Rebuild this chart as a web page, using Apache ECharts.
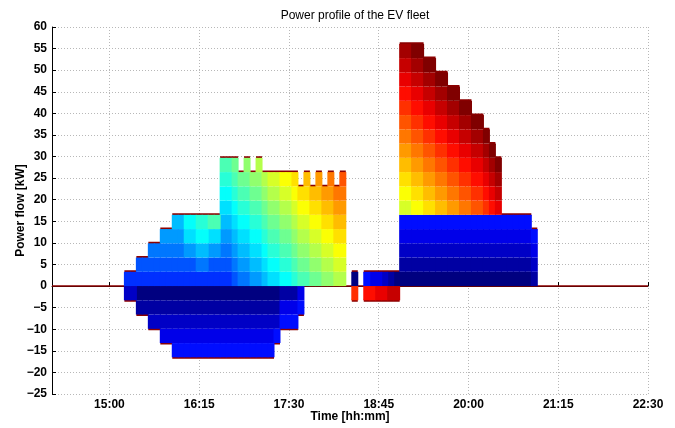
<!DOCTYPE html>
<html>
<head>
<meta charset="UTF-8">
<title>Power profile of the EV fleet</title>
<script src="https://cdn.jsdelivr.net/npm/echarts@6.0.0/dist/echarts.min.js"></script>
<style>
  body { margin: 0; background: #fff; }
  #chart { width: 675px; height: 428px; }
</style>
</head>
<body>
<div id="chart"></div>
<script>
// 5-minute time slots, slot 0 is centred on 15:15 (minutes after midnight)
const slotStart = 915;
const slotLen = 5;
const nSlots = 69;
const nVehicles = 30;
const evPower = 3.3;   // kW per vehicle

const xMin = 852, xMax = 1350;   // 14:12 .. 22:30
const xTicks = [900, 975, 1050, 1125, 1200, 1275, 1350];

// [first slot, last slot, vehicles charging]
const chargeRuns = [
  [0, 1, [5]],
  [2, 3, [5, 6]],
  [4, 5, [5, 6, 7]],
  [6, 7, [5, 6, 7, 8]],
  [8, 9, [5, 6, 7, 8, 9]],
  [10, 11, [5, 6, 8, 10, 11]],
  [12, 13, [5, 7, 9, 11, 12]],
  [14, 15, [5, 6, 8, 10, 13]],
  [16, 17, [5, 6, 7, 8, 9, 10, 11, 12, 13]],
  [18, 18, [6, 7, 8, 9, 10, 11, 12, 13, 14]],
  [19, 19, [7, 8, 9, 10, 11, 12, 13, 14]],
  [20, 20, [7, 8, 9, 10, 11, 12, 13, 14, 15]],
  [21, 21, [8, 9, 10, 11, 12, 13, 14, 15]],
  [22, 22, [8, 9, 10, 11, 12, 13, 14, 15, 16]],
  [23, 23, [9, 10, 11, 12, 13, 14, 15, 16]],
  [24, 25, [10, 11, 12, 13, 14, 15, 16, 17]],
  [26, 27, [11, 12, 13, 14, 15, 16, 17, 18]],
  [28, 28, [12, 13, 14, 15, 16, 17, 18, 19]],
  [29, 29, [13, 14, 15, 16, 17, 18, 19]],
  [30, 30, [13, 14, 15, 16, 17, 18, 19, 20]],
  [31, 31, [14, 15, 16, 17, 18, 19, 20]],
  [32, 32, [14, 15, 16, 17, 18, 19, 20, 21]],
  [33, 33, [15, 16, 17, 18, 19, 20, 21]],
  [34, 34, [15, 16, 17, 18, 19, 20, 21, 22]],
  [35, 35, [16, 17, 18, 19, 20, 21, 22]],
  [36, 36, [16, 17, 18, 19, 20, 21, 22, 23]],
  [38, 38, [0]],
  [40, 40, [4]],
  [41, 42, [3]],
  [43, 43, [2]],
  [44, 44, [1]],
  [45, 45, [0]],
  [46, 47, [0, 1, 2, 3, 4, 17, 18, 19, 20, 21, 22, 23, 24, 25, 26, 27, 28]],
  [48, 49, [0, 1, 2, 3, 4, 18, 19, 20, 21, 22, 23, 24, 25, 26, 27, 28, 29]],
  [50, 51, [0, 1, 2, 3, 4, 19, 20, 21, 22, 23, 24, 25, 26, 27, 28, 29]],
  [52, 53, [0, 1, 2, 3, 4, 20, 21, 22, 23, 24, 25, 26, 27, 28, 29]],
  [54, 55, [0, 1, 2, 3, 4, 21, 22, 23, 24, 25, 26, 27, 28, 29]],
  [56, 57, [0, 1, 2, 3, 4, 22, 23, 24, 25, 26, 27, 28, 29]],
  [58, 59, [0, 1, 2, 3, 4, 23, 24, 25, 26, 27, 28, 29]],
  [60, 60, [0, 1, 2, 3, 4, 24, 25, 26, 27, 28, 29]],
  [61, 61, [0, 1, 2, 3, 4, 25, 26, 27, 28, 29]],
  [62, 62, [0, 1, 2, 3, 4, 26, 27, 28, 29]],
  [63, 67, [0, 1, 2, 3, 4]],
  [68, 68, [1, 2, 3, 4]]
];

// [first slot, last slot, vehicles feeding back]
const dischargeRuns = [
  [0, 1, [2]],
  [2, 3, [0, 1]],
  [4, 5, [0, 1, 2]],
  [6, 7, [0, 1, 2, 3]],
  [8, 24, [0, 1, 2, 3, 4]],
  [25, 25, [0, 1, 2, 4]],
  [26, 28, [1, 3, 4]],
  [29, 29, [3, 4]],
  [38, 38, [24]],
  [40, 41, [25]],
  [42, 43, [26]],
  [44, 45, [27]]
];

function jet(t) {
  const c = v => Math.max(0, Math.min(1, 1.5 - Math.abs(v)));
  const r = Math.round(255 * c(4 * t - 3));
  const g = Math.round(255 * c(4 * t - 2));
  const b = Math.round(255 * c(4 * t - 1));
  return 'rgb(' + r + ',' + g + ',' + b + ')';
}

function hhmm(v) {
  const h = Math.floor(v / 60), m = v % 60;
  return h + ':' + (m < 10 ? '0' : '') + m;
}

// per vehicle, per slot power
const power = [];
for (let i = 0; i < nVehicles; i++) power.push(new Array(nSlots).fill('-'));
chargeRuns.forEach(([a, b, list]) => {
  for (let s = a; s <= b; s++) list.forEach(i => { power[i][s] = evPower; });
});
dischargeRuns.forEach(([a, b, list]) => {
  for (let s = a; s <= b; s++) list.forEach(i => { power[i][s] = -evPower; });
});

const slotTime = s => slotStart + s * slotLen;

// power goes in the first dimension so the stack is done on y, not on x
const series = [];
for (let i = 0; i < nVehicles; i++) {
  series.push({
    type: 'bar',
    stack: 'fleet',
    barWidth: 7,
    itemStyle: { color: jet(i / (nVehicles - 1)), borderRadius: 0, borderWidth: 0 },
    silent: true,
    z: 3,
    dimensions: ['kw', 'time'],
    encode: { x: 'time', y: 'kw' },
    data: power[i].map((v, s) => [v, slotTime(s)])
  });
}

// totals as short horizontal strokes on top/bottom of each column
const upper = [], lower = [];
for (let s = 0; s < nSlots; s++) {
  let pos = 0, neg = 0;
  for (let i = 0; i < nVehicles; i++) {
    const v = power[i][s];
    if (v === '-') continue;
    if (v > 0) pos += v; else neg += v;
  }
  const l = slotTime(s) - slotLen / 2, r = slotTime(s) + slotLen / 2;
  if (pos > 0) upper.push([l, pos], [r, pos], [r, '-']);
  if (neg < 0) lower.push([l, neg], [r, neg], [r, '-']);
}
const edge = { color: '#8b0000', width: 3 };
series.push(
  { type: 'line', data: upper, symbol: 'none', lineStyle: edge, z: 1, silent: true },
  { type: 'line', data: lower, symbol: 'none', lineStyle: edge, z: 1, silent: true },
  { type: 'line', data: [[xMin, 0], [xMax, 0]], symbol: 'none',
    lineStyle: { color: '#8b0000', width: 1.5 }, z: 1, silent: true }
);

const font = "'Liberation Sans', Arial, sans-serif";
const chart = echarts.init(document.getElementById('chart'));
chart.setOption({
  animation: false,
  backgroundColor: '#fff',
  title: {
    text: 'Power profile of the EV fleet',
    left: 350, top: 5, textAlign: 'center',
    textStyle: { fontFamily: font, fontSize: 12, fontWeight: 'normal', color: '#000' }
  },
  grid: { left: 52, right: 27, top: 27, bottom: 34, containLabel: false, outerBoundsMode: 'none' },
  xAxis: {
    type: 'value', min: xMin, max: xMax,
    name: 'Time [hh:mm]', nameLocation: 'middle', nameGap: 17, nameMoveOverlap: false,
    nameTextStyle: { fontFamily: font, fontSize: 12, fontWeight: 'bold', color: '#000' },
    axisLine: { lineStyle: { color: '#000', width: 1 } },
    axisTick: { inside: true, length: 4, customValues: xTicks, lineStyle: { color: '#000' } },
    axisLabel: { customValues: xTicks, formatter: hhmm, margin: 5,
      fontFamily: font, fontSize: 12, fontWeight: 'bold', color: '#000' },
    splitLine: { show: true, lineStyle: { color: '#b8b8b8', type: [1, 2] } }
  },
  yAxis: {
    type: 'value', min: -25, max: 60, interval: 5,
    name: 'Power flow [kW]', nameLocation: 'middle', nameGap: 25, nameMoveOverlap: false,
    nameTextStyle: { fontFamily: font, fontSize: 12, fontWeight: 'bold', color: '#000' },
    axisLine: { show: true, lineStyle: { color: '#000', width: 1 } },
    axisTick: { show: true, inside: true, length: 4, lineStyle: { color: '#000' } },
    axisLabel: { formatter: v => (v < 0 ? '\u2212' + (-v) : '' + v), margin: 5,
      fontFamily: font, fontSize: 12, fontWeight: 'bold', color: '#000' },
    splitLine: { show: true, lineStyle: { color: '#b8b8b8', type: [1, 2] } }
  },
  series: series
});
</script>
</body>
</html>
